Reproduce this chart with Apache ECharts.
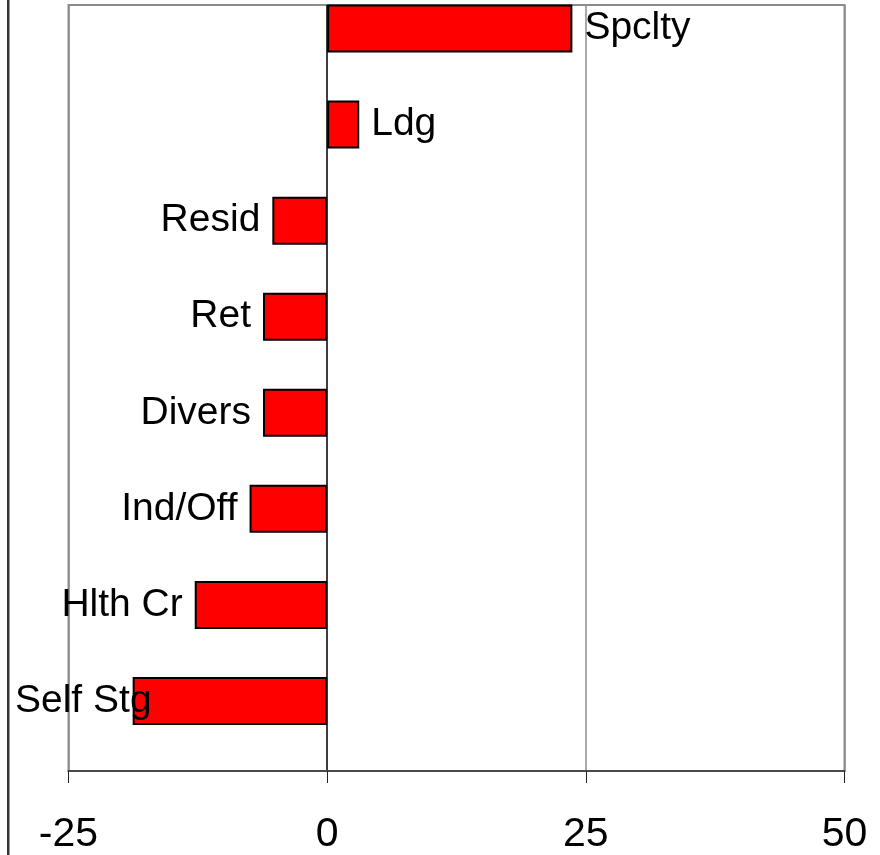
<!DOCTYPE html>
<html>
<head>
<meta charset="utf-8">
<script src="https://cdn.jsdelivr.net/npm/echarts@6/dist/echarts.min.js"></script>
<style>
  html, body { margin: 0; padding: 0; background: #fff; overflow: hidden; }
  /* canvas starts slightly above the window so the top bar band sits partly outside */
  #chart { position: absolute; left: 0; top: -20px; width: 880px; height: 875px; }
</style>
</head>
<body>
<div id="chart"></div>
<script>
// Sector change, horizontal bars (top to bottom)
const categories = ['Spclty', 'Ldg', 'Resid', 'Ret', 'Divers', 'Ind/Off', 'Hlth Cr', 'Self Stg'];
const values = [23.7, 3.1, -5.3, -6.2, -6.2, -7.5, -12.8, -18.8];

// Value axis range and tick step
const xMin = -25;
const xMax = 50;
const xStep = 25;

const FONT = '"Liberation Sans", Arial, sans-serif';
const LABEL_SIZE = 39;
const LABEL_GAP = 12;
const LEFT_LIMIT = 15;

const chart = echarts.init(document.getElementById('chart'), null, { renderer: 'canvas' });

function buildData(distances) {
  return values.map((v, i) => ({
    value: v,
    name: categories[i],
    label: {
      position: v >= 0 ? 'right' : 'left',
      distance: distances ? distances[i] : LABEL_GAP
    }
  }));
}

const option = {
  animation: false,
  backgroundColor: '#ffffff',
  grid: [
    // frame with value gridlines
    { left: 68.5, right: 35.5, top: 25, bottom: 82, show: true, borderColor: '#8c8c8c', borderWidth: 2, backgroundColor: 'transparent' },
    // bars
    { left: 68.5, right: 35.5, top: 0.5, bottom: 106 }
  ],
  xAxis: [
    {
      gridIndex: 0,
      type: 'value',
      min: xMin, max: xMax, interval: xStep,
      axisLine: { show: true, lineStyle: { color: '#4a4a4a', width: 2 } },
      axisTick: { show: true, length: 12, lineStyle: { color: '#222', width: 1 } },
      axisLabel: { color: '#000', fontFamily: FONT, fontSize: 41, margin: 43 },
      splitLine: { show: true, lineStyle: { color: ['#8c8c8c', '#000000', '#8c8c8c', '#8c8c8c'], width: 1.5 } }
    },
    {
      gridIndex: 1,
      type: 'value',
      min: xMin, max: xMax, interval: xStep,
      show: false
    }
  ],
  yAxis: [
    { gridIndex: 0, type: 'value', show: false },
    {
      gridIndex: 1,
      type: 'category',
      data: categories,
      inverse: true,
      show: false
    }
  ],
  graphic: [
    { type: 'rect', left: 7, top: 0, shape: { width: 2.5, height: 875 }, style: { fill: '#333' }, silent: true }
  ],
  series: [
    {
      type: 'bar',
      xAxisIndex: 1,
      yAxisIndex: 1,
      barWidth: '50%',
      data: buildData(null),
      itemStyle: { color: '#ff0000', borderColor: '#000', borderWidth: 2 },
      label: {
        show: true,
        formatter: '{b}',
        color: '#000',
        fontFamily: FONT,
        fontSize: LABEL_SIZE
      },
      z: 3
    }
  ]
};

chart.setOption(option);

// Keep left-hand labels from running past the chart's left edge
const ctx = document.createElement('canvas').getContext('2d');
ctx.font = LABEL_SIZE + 'px ' + FONT;
const distances = values.map((v, i) => {
  if (v >= 0) return LABEL_GAP;
  const px = chart.convertToPixel({ xAxisIndex: 1, yAxisIndex: 1 }, [v, i])[0];
  const w = ctx.measureText(categories[i]).width;
  if (px - LABEL_GAP - w < LEFT_LIMIT) return px - w - LEFT_LIMIT;
  return LABEL_GAP;
});
chart.setOption({ series: [{ data: buildData(distances) }] });
</script>
</body>
</html>
